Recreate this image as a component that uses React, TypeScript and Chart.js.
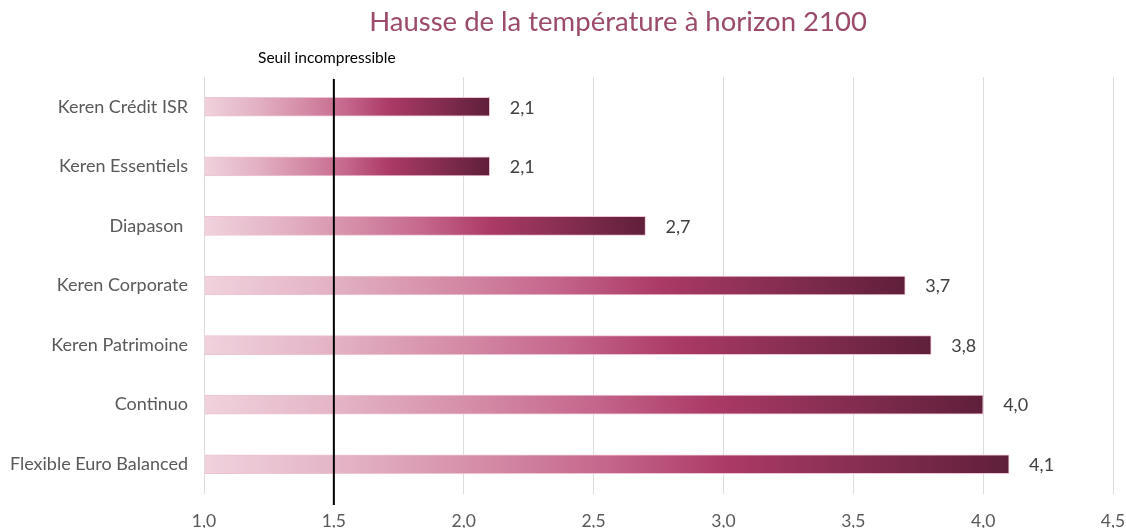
import React, { useEffect, useRef } from "react";
import { Chart, registerables } from "chart.js";

Chart.register(...registerables);

const categories = [
  "Keren Crédit ISR",
  "Keren Essentiels",
  "Diapason ",
  "Keren Corporate",
  "Keren Patrimoine",
  "Continuo",
  "Flexible Euro Balanced",
];
const values = [2.1, 2.1, 2.7, 3.7, 3.8, 4.0, 4.1];
const xMin = 1.0;
const xMax = 4.5;
const xStep = 0.5;
const titleText = "Hausse de la température à horizon 2100";
const thresholdValue = 1.5;
const thresholdLabel = "Seuil incompressible";

const FONT = "Lato, 'Open Sans', sans-serif";
const fmt = (v: number) => v.toFixed(1).replace(".", ",");

const overlayPlugin = {
  id: "overlay",
  afterDatasetsDraw(chart: any) {
    const { ctx, chartArea, scales } = chart;
    const xs = scales.x;
    const meta = chart.getDatasetMeta(0);
    ctx.save();
    // value labels
    ctx.font = `18px ${FONT}`;
    ctx.fillStyle = "#404040";
    ctx.textAlign = "left";
    ctx.textBaseline = "middle";
    meta.data.forEach((bar: any, i: number) => {
      ctx.fillText(fmt(values[i]), bar.x + 20, bar.y + 1);
    });
    // threshold line
    const tx = xs.getPixelForValue(thresholdValue);
    ctx.strokeStyle = "#000";
    ctx.lineWidth = 2;
    ctx.beginPath();
    ctx.moveTo(tx, chartArea.top + 2);
    ctx.lineTo(tx, chartArea.bottom + 11);
    ctx.stroke();
    // threshold label
    ctx.font = `15.5px ${FONT}`;
    ctx.fillStyle = "#000";
    ctx.textAlign = "center";
    ctx.fillText(thresholdLabel, tx - 7, 58);
    // title
    ctx.font = `27.5px ${FONT}`;
    ctx.fillStyle = "#9b4a6b";
    ctx.textAlign = "center";
    ctx.fillText(titleText, 618, 22);
    ctx.restore();
  },
};

export default function App() {
  const ref = useRef<HTMLCanvasElement | null>(null);

  useEffect(() => {
    document.body.style.margin = "0";
    const canvas = ref.current;
    if (!canvas) return;
    const chart = new Chart(canvas, {
      type: "bar",
      data: {
        labels: categories,
        datasets: [
          {
            data: values,
            base: xMin,
            barThickness: 19,
            borderWidth: 1,
            borderColor: "rgba(236,190,207,0.9)",
            borderSkipped: "start",
            backgroundColor: (c: any) => {
              const ch = c.chart;
              const xs = ch.scales && ch.scales.x;
              if (!xs || c.type !== "data") return "#a8325f";
              const x0 = xs.getPixelForValue(xMin);
              const x1 = xs.getPixelForValue(values[c.dataIndex]);
              if (!isFinite(x0) || !isFinite(x1) || x1 <= x0) return "#a8325f";
              const g = ch.ctx.createLinearGradient(x0, 0, x1, 0);
              g.addColorStop(0, "#f0d2dd");
              g.addColorStop(0.18, "#e3b2c4");
              g.addColorStop(0.35, "#d48ba6");
              g.addColorStop(0.5, "#c5668c");
              g.addColorStop(0.65, "#ab3a66");
              g.addColorStop(0.8, "#8a2f54");
              g.addColorStop(1, "#5f1f3a");
              return g;
            },
          } as any,
        ],
      },
      options: {
        indexAxis: "y",
        responsive: false,
        animation: false,
        devicePixelRatio: 1,
        layout: { padding: { top: 77, left: 8, right: 0, bottom: 0 } },
        plugins: {
          legend: { display: false },
          title: { display: false },
          tooltip: { enabled: false },
        },
        scales: {
          x: {
            type: "linear",
            min: xMin,
            max: xMax,
            ticks: {
              stepSize: xStep,
              padding: 17,
              color: "#595959",
              font: { family: FONT, size: 17.5 },
              callback: (v: any) => fmt(Number(v)),
            },
            grid: { color: "#dcdcdc", lineWidth: 1, drawTicks: false },
            border: { display: false },
            afterFit: (s: any) => {
              s.height = 34;
              s.paddingRight = 13;
              s.paddingLeft = 0;
            },
          },
          y: {
            type: "category",
            offset: true,
            ticks: {
              padding: 16,
              color: "#595959",
              font: { family: FONT, size: 18 },
            },
            grid: { display: false, drawTicks: false },
            border: { display: false },
            afterFit: (s: any) => {
              s.width = 196;
            },
          },
        },
      } as any,
      plugins: [overlayPlugin],
    });
    return () => chart.destroy();
  }, []);

  return <canvas ref={ref} width={1126} height={528} style={{ display: "block" }} />;
}
